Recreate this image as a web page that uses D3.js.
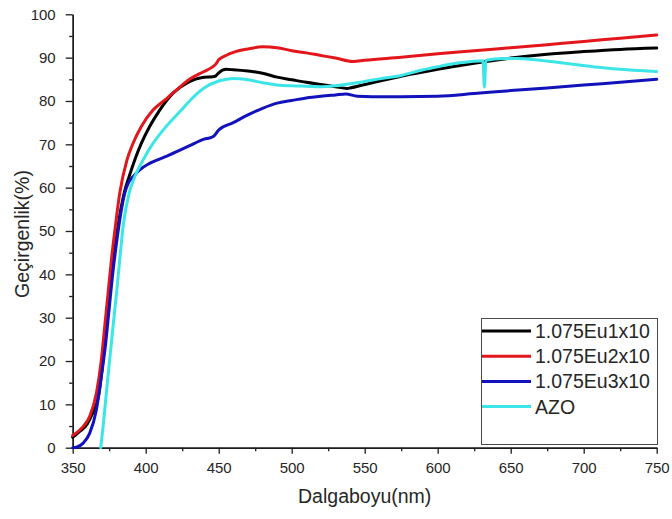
<!DOCTYPE html>
<html>
<head>
<meta charset="utf-8">
<script src="https://cdn.jsdelivr.net/npm/d3@7/dist/d3.min.js"></script>
<style>
  html, body { margin: 0; padding: 0; background: #fff; }
  svg { display: block; font-family: "Liberation Sans", Arial, sans-serif; }
</style>
</head>
<body>
<svg id="chart" width="672" height="519"></svg>
<script>
// Transmittance spectra (wavelength in nm, transmittance in %)
const eu1Wave = [350, 355, 360, 363, 368, 370.8, 373, 375.3, 378, 381, 385.2, 388.6, 392.5, 397, 402.7, 409.6, 418.7, 428, 440, 446, 448, 450, 455, 460, 470, 480, 490, 500, 510, 520, 530, 538, 540, 550, 575, 600, 625, 650, 675, 700, 725, 750];
const eu1Values = [2.4, 3.8, 5.5, 7.5, 12.5, 20.2, 27.9, 35.6, 43.3, 51, 58.7, 62.5, 66.4, 70.2, 74.1, 77.9, 81.8, 84.1, 85.5, 85.6, 85.8, 86.5, 87.3, 87.2, 86.9, 86.4, 85.5, 84.9, 84.3, 83.8, 83.3, 82.9, 83.0, 83.8, 85.7, 87.3, 88.7, 89.9, 90.8, 91.4, 91.9, 92.2];

const eu2Wave = [350, 357, 361.6, 366.2, 369.6, 371.9, 374.2, 376.5, 379.2, 382.2, 387.2, 391.3, 397, 405, 413, 421, 430, 440, 445, 448, 450, 455, 460, 470, 480, 490, 500, 510, 520, 530, 542, 550, 575, 600, 625, 650, 675, 700, 725, 750];
const eu2Values = [2.8, 4.8, 7.2, 12.5, 20.2, 27.9, 35.6, 43.3, 51, 58.7, 66.4, 70.2, 74.1, 77.9, 80.2, 82.5, 85.0, 86.8, 87.7, 88.5, 89.5, 90.5, 91.2, 92.0, 92.5, 92.3, 91.6, 91.1, 90.5, 89.9, 89.1, 89.4, 90.1, 90.9, 91.6, 92.3, 93.0, 93.7, 94.5, 95.2];

const eu3Wave = [350, 352.5, 357, 361.6, 366.2, 369.6, 372.6, 374.9, 377.2, 380, 383.3, 385.6, 388, 391.3, 395.9, 402.7, 414, 429, 440, 445, 447, 450, 460, 470, 480, 490, 500, 510, 520, 530, 537, 545, 555, 575, 600, 625, 650, 675, 700, 725, 750];
const eu3Values = [0, 0.1, 1, 3.3, 8.7, 16.4, 24.1, 31.8, 39.5, 47.2, 54.8, 58.7, 61, 62.5, 64.1, 65.6, 67.2, 69.5, 71.2, 71.6, 72.0, 73.3, 75.0, 76.8, 78.3, 79.5, 80.1, 80.7, 81.1, 81.4, 81.6, 81.1, 81.0, 81.0, 81.1, 81.7, 82.4, 83.0, 83.7, 84.3, 85.0];

const azoWave = [369.2, 370.8, 373, 375.3, 377.6, 380, 382.2, 384.5, 388.6, 392.5, 398.2, 405, 414, 424.4, 430, 440, 450, 460, 470, 480, 490, 500, 510, 520, 530, 540, 550, 560, 575, 590, 600, 615, 631, 632, 633, 645, 655, 670, 690, 710, 730, 750];
const azoValues = [0, 4.8, 12.5, 20.2, 27.9, 35.6, 43.3, 51, 58.7, 62.5, 66.4, 70.2, 74.1, 77.9, 80.0, 83.0, 84.6, 85.2, 84.9, 84.2, 83.7, 83.5, 83.4, 83.3, 83.5, 84.0, 84.5, 85.1, 85.9, 87.2, 87.9, 88.8, 89.3, 83.2, 89.4, 89.8, 89.8, 89.4, 88.6, 87.8, 87.2, 86.8];

const seriesNames = ["1.075Eu1x10", "1.075Eu2x10", "1.075Eu3x10", "AZO"];
const seriesColors = ["#000000", "#e3161c", "#1212bd", "#3ce6e8"];
const seriesWaves = [eu1Wave, eu2Wave, eu3Wave, azoWave];
const seriesValues = [eu1Values, eu2Values, eu3Values, azoValues];

const xMajorTicks = [350, 400, 450, 500, 550, 600, 650, 700, 750];
const xMinorTicks = [375, 425, 475, 525, 575, 625, 675, 725];
const yMajorTicks = [0, 10, 20, 30, 40, 50, 60, 70, 80, 90, 100];
const yMinorTicks = [5, 15, 25, 35, 45, 55, 65, 75, 85, 95];

const xTitle = "Dalgaboyu(nm)";
const yTitle = "Geçirgenlik(%)";

const svg = d3.select("#chart");
svg.append("rect").attr("width", 672).attr("height", 519).attr("fill", "#fff");

const x = d3.scaleLinear().domain([350, 750]).range([72.7, 656.7]);
const y = d3.scaleLinear().domain([0, 100]).range([447.7, 14.3]);

const axisColor = "#1c1c1c";

// minor ticks
const gxMinor = svg.append("g").attr("transform", `translate(0,${y(0)})`)
  .call(d3.axisBottom(x).tickValues(xMinorTicks).tickSize(3.5).tickSizeOuter(0).tickFormat(""));
const gyMinor = svg.append("g").attr("transform", `translate(${x(350)},0)`)
  .call(d3.axisLeft(y).tickValues(yMinorTicks).tickSize(3.5).tickSizeOuter(0).tickFormat(""));

// major ticks with labels
const gx = svg.append("g").attr("transform", `translate(0,${y(0)})`)
  .call(d3.axisBottom(x).tickValues(xMajorTicks).tickSize(6).tickPadding(9).tickSizeOuter(0).tickFormat(d3.format("d")));
const gy = svg.append("g").attr("transform", `translate(${x(350)},0)`)
  .call(d3.axisLeft(y).tickValues(yMajorTicks).tickSize(7).tickPadding(10).tickSizeOuter(0).tickFormat(d3.format("d")));

[gxMinor, gyMinor, gx, gy].forEach(g => {
  g.selectAll("path.domain").attr("stroke", axisColor).attr("stroke-width", 1.4);
  g.selectAll(".tick line").attr("stroke", axisColor).attr("stroke-width", 1.3);
  g.selectAll(".tick text").attr("fill", "#262626")
    .style("font-family", "'Liberation Sans', Arial, sans-serif").style("font-size", "15px");
});

// curves
const line = d3.line()
  .x(d => x(d[0]))
  .y(d => y(d[1]))
  .curve(d3.curveMonotoneX);

seriesNames.forEach((name, i) => {
  const pts = seriesWaves[i].map((w, j) => [w, seriesValues[i][j]]);
  svg.append("path")
    .datum(pts)
    .attr("d", line)
    .attr("fill", "none")
    .attr("stroke", seriesColors[i])
    .attr("stroke-width", 3)
    .attr("stroke-linejoin", "round")
    .attr("stroke-linecap", "round");
});

// axis titles
svg.append("text")
  .attr("x", (x(350) + x(750)) / 2)
  .attr("y", 503)
  .attr("text-anchor", "middle")
  .attr("fill", "#262626")
  .style("font-size", "19.5px")
  .text(xTitle);

svg.append("text")
  .attr("transform", `translate(29,${(y(0) + y(100)) / 2 + 3}) rotate(-90)`)
  .attr("text-anchor", "middle")
  .attr("fill", "#262626")
  .style("font-size", "19.5px")
  .text(yTitle);

// legend
const legend = svg.append("g");
legend.append("rect")
  .attr("x", 481.5).attr("y", 318.5)
  .attr("width", 176).attr("height", 126)
  .attr("fill", "#fff")
  .attr("stroke", "#4a4a4a")
  .attr("stroke-width", 1);

seriesNames.forEach((name, i) => {
  const ry = 331 + i * 25.2;
  legend.append("line")
    .attr("x1", 482).attr("x2", 531)
    .attr("y1", ry).attr("y2", ry)
    .attr("stroke", seriesColors[i])
    .attr("stroke-width", 3);
  legend.append("text")
    .attr("x", 535)
    .attr("y", ry)
    .attr("dy", "0.36em")
    .attr("fill", "#262626")
    .style("font-size", "19.5px")
    .text(name);
});
</script>
</body>
</html>
